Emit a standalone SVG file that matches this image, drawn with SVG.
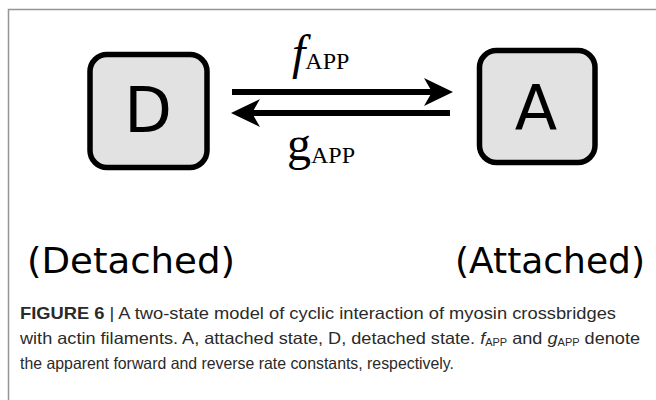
<svg xmlns="http://www.w3.org/2000/svg" width="656" height="400" viewBox="0 0 656 400">
<defs>
<style>
.box{fill:#e2e2e2;stroke:#000;stroke-width:5.5}
.st{font-family:"DejaVu Sans",Verdana,sans-serif;font-size:62px;fill:#000;text-anchor:middle}
.lab{font-family:"DejaVu Sans",Verdana,sans-serif;font-size:36px;fill:#000}
.rate{font-family:"Liberation Serif","Times New Roman",serif;fill:#000}
.cap{font-family:"Liberation Sans",Arial,sans-serif;font-size:16.5px;fill:#2a2a2a}
.conn{stroke:#000;stroke-width:6;fill:none}
.head{fill:#000}
</style>
</defs>
<rect width="656" height="400" fill="#fff"/>
<path d="M8.5 400 V9.5 H656" fill="none" stroke="#959595" stroke-width="1.5"/>
<g id="node-D">
<rect class="box" x="90" y="54.5" width="117" height="113" rx="17"/>
<text class="st" x="148" y="132">D</text>
</g>
<g id="node-A">
<rect class="box" x="479.5" y="50.5" width="115.5" height="112" rx="17"/>
<text class="st" x="536" y="130">A</text>
</g>
<g id="connectors">
<line class="conn" x1="232" y1="92" x2="432" y2="92"/>
<path class="head" d="M453 92 L424 78 L432 92 L424 106 Z"/>
<line class="conn" x1="450" y1="113" x2="252" y2="113"/>
<path class="head" d="M231 113 L260 99 L252 113 L260 127 Z"/>
<text class="rate" x="292" y="69"><tspan font-style="italic" font-size="48">f</tspan><tspan font-size="24">APP</tspan></text>
<text class="rate" x="287" y="160"><tspan font-size="48">g</tspan><tspan font-size="24" dy="3">APP</tspan></text>
</g>
<g id="labels">
<text class="lab" x="27" y="273" textLength="208" lengthAdjust="spacingAndGlyphs">(Detached)</text>
<text class="lab" x="455" y="273">(Attached)</text>
</g>
<g id="caption">
<text class="cap" x="20" y="319" textLength="596" lengthAdjust="spacingAndGlyphs"><tspan font-weight="bold">FIGURE 6</tspan> | A two-state model of cyclic interaction of myosin crossbridges</text>
<text class="cap" x="20" y="344" textLength="620" lengthAdjust="spacingAndGlyphs">with actin filaments. A, attached state, D, detached state. <tspan font-style="italic">f</tspan><tspan font-size="10" dy="2">APP</tspan><tspan dy="-2"> and </tspan><tspan font-style="italic">g</tspan><tspan font-size="10" dy="2">APP</tspan><tspan dy="-2"> denote</tspan></text>
<text class="cap" x="20" y="369" textLength="434" lengthAdjust="spacingAndGlyphs">the apparent forward and reverse rate constants, respectively.</text>
</g>
</svg>
